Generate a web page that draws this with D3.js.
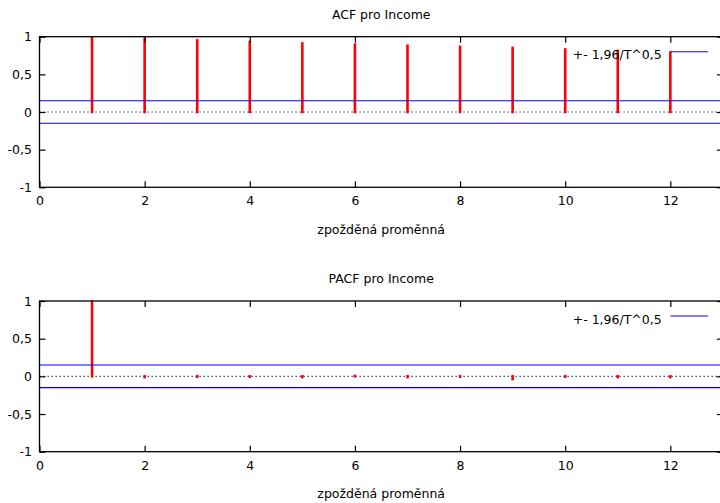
<!DOCTYPE html>
<html>
<head>
<meta charset="utf-8">
<script src="https://cdn.jsdelivr.net/npm/d3@7"></script>
<style>
  body { margin: 0; background: #fff; }
  svg { display: block; font-family: "DejaVu Sans", sans-serif; }
  text { fill: #000; }
</style>
</head>
<body>
<div id="chart"></div>
<script>
// data
var lags = [1, 2, 3, 4, 5, 6, 7, 8, 9, 10, 11, 12];
var acfValues = [0.99, 0.97, 0.95, 0.93, 0.91, 0.895, 0.88, 0.865, 0.85, 0.83, 0.81, 0.79];
var pacfValues = [0.99, -0.01, -0.005, -0.005, -0.01, 0.005, -0.01, -0.005, -0.035, -0.005, -0.01, -0.01];
var bounds = [-0.15, 0.15];
var xTicks = [0, 2, 4, 6, 8, 10, 12];
var yTicks = [-1, -0.5, 0, 0.5, 1];
var titles = ["ACF pro Income", "PACF pro Income"];
var xLabel = "zpožděná proměnná";
var legendLabel = "+- 1,96/T^0,5";

var W = 720, H = 503;
var svg = d3.select("#chart").append("svg").attr("width", W).attr("height", H);

var fmt = function(d) { return String(d).replace(".", ","); };

// x scale shared by both panels (plot runs past the right edge of the picture)
var x = d3.scaleLinear().domain([0, 13]).range([39.5, 722.9]);

function drawPanel(top, bottom, title, values, zeroColor) {
    var y = d3.scaleLinear().domain([-1, 1]).range([bottom, top]);
    var g = svg.append("g");

    // title
    g.append("text")
        .attr("x", (x.range()[0] + x.range()[1]) / 2)
        .attr("y", top - 17.7)
        .attr("text-anchor", "middle")
        .style("font-size", "12.5px")
        .text(title);

    // zero line, dotted
    g.append("line")
        .attr("x1", x.range()[0]).attr("x2", x.range()[1])
        .attr("y1", y(0)).attr("y2", y(0))
        .attr("stroke", zeroColor)
        .attr("stroke-width", 1.3)
        .attr("stroke-dasharray", "1.3,2.7");

    // impulses
    g.selectAll("line.imp")
        .data(lags)
        .enter().append("line")
        .attr("class", "imp")
        .attr("x1", function(d) { return x(d); })
        .attr("x2", function(d) { return x(d); })
        .attr("y1", y(0))
        .attr("y2", function(d, i) { return y(values[i]); })
        .attr("stroke", "#ff0000")
        .attr("stroke-width", 2.6)
        .attr("stroke-linecap", "square");

    // confidence bounds
    g.selectAll("line.bound")
        .data(bounds)
        .enter().append("line")
        .attr("class", "bound")
        .attr("x1", x.range()[0]).attr("x2", x.range()[1])
        .attr("y1", function(d) { return y(d); })
        .attr("y2", function(d) { return y(d); })
        .attr("stroke", "#0000ff")
        .attr("stroke-width", 1.15);

    // axes with inward ticks
    var left = g.append("g")
        .attr("transform", "translate(" + x.range()[0] + ",0)")
        .call(d3.axisLeft(y).tickValues(yTicks).tickFormat(fmt).tickSize(-6).tickPadding(7.5));
    var right = g.append("g")
        .attr("transform", "translate(" + x.range()[1] + ",0)")
        .call(d3.axisRight(y).tickValues(yTicks).tickFormat("").tickSize(-6));
    var bot = g.append("g")
        .attr("transform", "translate(0," + bottom + ")")
        .call(d3.axisBottom(x).tickValues(xTicks).tickFormat(fmt).tickSize(-6).tickPadding(9));
    var topAx = g.append("g")
        .attr("transform", "translate(0," + top + ")")
        .call(d3.axisTop(x).tickValues(xTicks).tickFormat("").tickSize(-6));

    [left, right, bot, topAx].forEach(function(a) {
        a.select(".domain").remove();
        a.selectAll(".tick line").attr("stroke", "#000").attr("stroke-width", 1.2);
        a.selectAll("text").style("font-size", "12.5px").style("font-family", "DejaVu Sans, sans-serif").attr("fill", "#000");
    });
    bot.selectAll("text").attr("dy", "0.71em");

    // border
    g.append("rect")
        .attr("x", x.range()[0]).attr("y", top)
        .attr("width", x.range()[1] - x.range()[0])
        .attr("height", bottom - top)
        .attr("fill", "none")
        .attr("stroke", "#000")
        .attr("stroke-width", 1.3);

    // x axis label
    g.append("text")
        .attr("x", (x.range()[0] + x.range()[1]) / 2)
        .attr("y", bottom + 46.5)
        .attr("text-anchor", "middle")
        .style("font-size", "12.5px")
        .text(xLabel);

    // key
    g.append("line")
        .attr("x1", 670.5).attr("x2", 708)
        .attr("y1", top + 15).attr("y2", top + 15)
        .attr("stroke", "#0000ff").attr("stroke-width", 1.15);
    g.append("text")
        .attr("x", 661.7)
        .attr("y", top + 22.5)
        .attr("text-anchor", "end")
        .style("font-size", "12.5px")
        .text(legendLabel);
}

drawPanel(36.7, 187.3, titles[0], acfValues, "#777");
drawPanel(301, 451.7, titles[1], pacfValues, "#333");
</script>
</body>
</html>
